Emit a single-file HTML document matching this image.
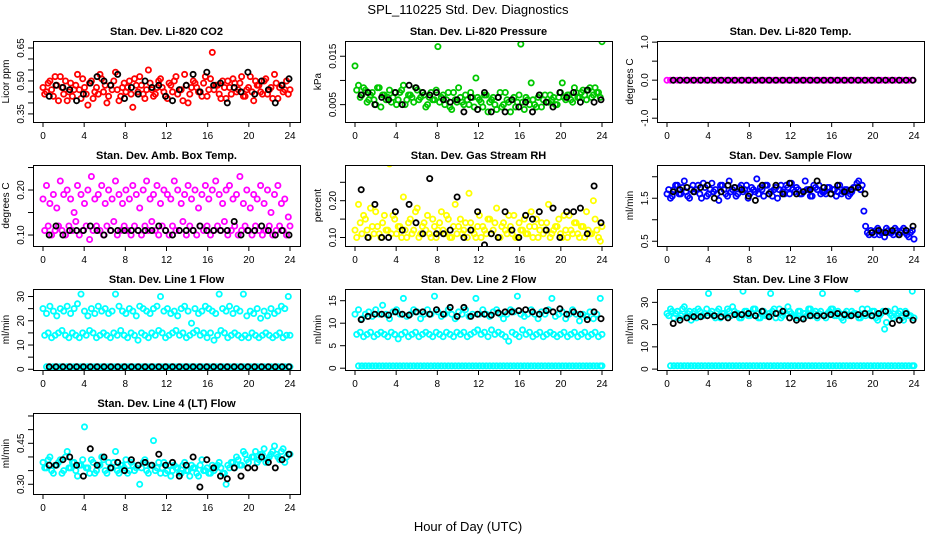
<!DOCTYPE html>
<html><head><meta charset="utf-8"><style>
html,body{margin:0;padding:0;background:#fff}
svg{display:block;font-family:"Liberation Sans",Arial,sans-serif}
</style></head><body>
<svg id="c" width="936" height="540" viewBox="0 0 936 540">
<text x="468" y="14" text-anchor="middle" font-size="13">SPL_110225  Std. Dev. Diagnostics</text>
<text x="468" y="531" text-anchor="middle" font-size="13">Hour of Day (UTC)</text>
</svg>
<script>
const hourTicks=[0,4,8,12,16,20,24];
const co2A=[0.47,0.45,0.50,0.43,0.48,0.52,0.44,0.41,0.49,0.46,0.53,0.42,0.47,0.39,0.50,0.45,0.44,0.51,0.48,0.43,0.46,0.54,0.41,0.47,0.45,0.50,0.38,0.48,0.52,0.44,0.46,0.49,0.43,0.47,0.51,0.45,0.42,0.48,0.50,0.44,0.46,0.53,0.40,0.47,0.49,0.45,0.43,0.52,0.46,0.63,0.48,0.44,0.50,0.42,0.47,0.51,0.45,0.49,0.43,0.46,0.52,0.41,0.48,0.45,0.50,0.44,0.47,0.53,0.42,0.48,0.46,0.44];
const co2B=[0.44,0.49,0.46,0.52,0.41,0.47,0.50,0.45,0.43,0.48,0.46,0.51,0.44,0.49,0.42,0.47,0.53,0.45,0.40,0.48,0.50,0.46,0.43,0.49,0.47,0.44,0.51,0.45,0.48,0.42,0.55,0.46,0.44,0.50,0.47,0.43,0.49,0.45,0.52,0.46,0.41,0.48,0.44,0.50,0.47,0.45,0.49,0.43,0.51,0.46,0.48,0.42,0.47,0.50,0.44,0.49,0.46,0.52,0.43,0.47,0.45,0.50,0.48,0.44,0.51,0.46,0.42,0.49,0.47,0.45,0.50,0.46];
const co2K=[0.43,0.48,0.47,0.46,0.41,0.44,0.49,0.52,0.50,0.48,0.53,0.42,0.47,0.44,0.50,0.47,0.48,0.43,0.41,0.46,0.48,0.53,0.45,0.54,0.48,0.49,0.40,0.47,0.45,0.54,0.44,0.50,0.46,0.40,0.48,0.51];
const presA=[0.013,0.009,0.007,0.008,0.006,0.0075,0.005,0.0085,0.007,0.006,0.008,0.0065,0.005,0.0075,0.009,0.006,0.007,0.0055,0.008,0.0065,0.007,0.005,0.0075,0.006,0.017,0.0065,0.005,0.0075,0.004,0.006,0.0085,0.0055,0.007,0.005,0.0065,0.0105,0.006,0.0045,0.007,0.0055,0.0065,0.004,0.0075,0.005,0.006,0.0035,0.0065,0.0055,0.0175,0.004,0.006,0.0095,0.005,0.0065,0.0045,0.007,0.0055,0.006,0.005,0.0065,0.0095,0.006,0.007,0.0055,0.0075,0.0065,0.008,0.006,0.0085,0.007,0.0075,0.0065];
const presB=[0.008,0.0065,0.0085,0.0055,0.007,0.006,0.0085,0.0045,0.007,0.0065,0.0055,0.0075,0.006,0.008,0.005,0.007,0.0065,0.0085,0.006,0.0075,0.0045,0.0065,0.006,0.008,0.0055,0.007,0.006,0.0045,0.0075,0.0055,0.0065,0.005,0.006,0.0075,0.0045,0.0065,0.0055,0.007,0.0035,0.006,0.005,0.0065,0.0045,0.0075,0.0055,0.006,0.0045,0.007,0.0055,0.0065,0.005,0.006,0.0045,0.007,0.006,0.0055,0.007,0.0065,0.005,0.0075,0.0065,0.007,0.006,0.0085,0.0065,0.0075,0.007,0.008,0.0065,0.0085,0.0075,0.018];
const presK=[0.007,0.0075,0.005,0.0065,0.006,0.0075,0.005,0.009,0.0085,0.0075,0.007,0.0075,0.006,0.0055,0.006,0.0035,0.0065,0.004,0.0075,0.0035,0.0065,0.0035,0.006,0.0045,0.0055,0.0035,0.007,0.0055,0.0045,0.0075,0.0065,0.0075,0.0055,0.008,0.0055,0.006];
const tempA=[0,0,0,0,0,0,0,0,0,0,0,0,0,0,0,0,0,0,0,0,0,0,0,0,0,0,0,0,0,0,0,0,0,0,0,0,0,0,0,0,0,0,0,0,0,0,0,0,0,0,0,0,0,0,0,0,0,0,0,0,0,0,0,0,0,0,0,0,0,0,0,0];
const tempK=[0,0,0,0,0,0,0,0,0,0,0,0,0,0,0,0,0,0,0,0,0,0,0,0,0,0,0,0,0,0,0,0,0,0,0,0];
const ambA=[0.18,0.21,0.17,0.19,0.16,0.22,0.19,0.20,0.18,0.15,0.21,0.19,0.17,0.20,0.23,0.18,0.19,0.21,0.17,0.20,0.18,0.22,0.19,0.17,0.20,0.18,0.21,0.19,0.16,0.20,0.22,0.18,0.19,0.21,0.17,0.20,0.19,0.18,0.22,0.20,0.17,0.19,0.21,0.18,0.20,0.16,0.19,0.21,0.18,0.20,0.22,0.19,0.17,0.20,0.21,0.18,0.19,0.23,0.17,0.20,0.16,0.19,0.18,0.21,0.17,0.20,0.15,0.19,0.21,0.17,0.18,0.14];
const ambB=[0.11,0.12,0.10,0.11,0.12,0.11,0.10,0.12,0.11,0.13,0.10,0.11,0.12,0.09,0.11,0.12,0.11,0.10,0.12,0.11,0.13,0.10,0.11,0.12,0.11,0.10,0.12,0.11,0.10,0.12,0.11,0.13,0.11,0.10,0.12,0.11,0.10,0.12,0.11,0.11,0.13,0.10,0.12,0.11,0.10,0.12,0.11,0.12,0.10,0.11,0.12,0.11,0.13,0.10,0.11,0.12,0.10,0.11,0.12,0.11,0.10,0.12,0.11,0.10,0.11,0.12,0.10,0.11,0.12,0.11,0.10,0.12];
const ambK=[0.10,0.12,0.10,0.11,0.11,0.11,0.12,0.11,0.10,0.11,0.11,0.11,0.11,0.11,0.11,0.11,0.12,0.11,0.10,0.11,0.11,0.11,0.12,0.11,0.11,0.11,0.11,0.13,0.10,0.11,0.11,0.12,0.11,0.10,0.11,0.10];
const rhA=[0.12,0.19,0.11,0.15,0.10,0.13,0.17,0.11,0.14,0.12,0.30,0.16,0.11,0.13,0.21,0.10,0.15,0.12,0.18,0.11,0.14,0.16,0.10,0.13,0.12,0.17,0.11,0.15,0.10,0.19,0.13,0.11,0.14,0.22,0.12,0.10,0.16,0.13,0.11,0.15,0.12,0.18,0.10,0.14,0.11,0.13,0.16,0.10,0.12,0.15,0.11,0.17,0.13,0.10,0.14,0.12,0.19,0.11,0.13,0.15,0.10,0.12,0.16,0.11,0.14,0.10,0.13,0.17,0.11,0.20,0.12,0.09];
const rhB=[0.10,0.14,0.16,0.12,0.18,0.11,0.13,0.10,0.16,0.12,0.11,0.15,0.13,0.10,0.12,0.14,0.11,0.17,0.10,0.13,0.12,0.11,0.15,0.10,0.14,0.12,0.16,0.10,0.13,0.11,0.15,0.12,0.10,0.14,0.11,0.13,0.10,0.12,0.15,0.11,0.14,0.10,0.13,0.12,0.16,0.11,0.10,0.14,0.12,0.11,0.13,0.10,0.15,0.12,0.11,0.14,0.10,0.12,0.13,0.11,0.16,0.10,0.12,0.14,0.11,0.13,0.10,0.12,0.11,0.15,0.10,0.13];
const rhK=[0.23,0.10,0.19,0.10,0.10,0.17,0.12,0.19,0.14,0.11,0.26,0.11,0.11,0.12,0.21,0.10,0.12,0.17,0.08,0.11,0.10,0.17,0.12,0.10,0.16,0.15,0.17,0.12,0.18,0.10,0.17,0.17,0.18,0.11,0.24,0.14];
const flowA=[1.6,1.5,1.7,1.8,1.6,1.9,1.55,1.7,1.65,1.8,1.5,1.75,1.6,1.85,1.7,1.45,1.8,1.6,1.9,1.7,1.55,1.75,1.65,1.8,1.6,1.7,1.95,1.75,1.55,1.8,1.65,1.7,1.5,1.8,1.6,1.75,1.85,1.65,1.7,1.6,1.9,1.7,1.55,1.75,1.8,1.65,1.6,1.75,1.7,1.55,1.8,1.65,1.7,1.6,1.75,1.85,1.7,1.2,0.7,0.75,0.65,0.8,0.7,0.6,0.75,0.7,0.8,0.65,0.75,0.7,0.6,0.75];
const flowB=[1.7,1.55,1.8,1.6,1.75,1.65,1.5,1.8,1.7,1.6,1.85,1.55,1.7,1.65,1.6,1.8,1.7,1.55,1.65,1.75,1.6,1.8,1.7,1.5,1.75,1.65,1.6,1.7,1.8,1.6,1.55,1.75,1.7,1.65,1.8,1.6,1.7,1.75,1.6,1.65,1.7,1.55,1.8,1.7,1.6,1.65,1.75,1.6,1.7,1.65,1.6,1.7,1.55,1.65,1.75,1.9,1.8,0.85,0.65,0.7,0.75,0.65,0.7,0.8,0.7,0.65,0.75,0.7,0.8,0.65,0.7,0.55];
const flowK=[1.65,1.7,1.75,1.65,1.75,1.8,1.5,1.65,1.8,1.75,1.7,1.55,1.45,1.8,1.6,1.8,1.6,1.85,1.6,1.65,1.7,1.9,1.75,1.6,1.8,1.65,1.7,1.75,1.6,0.7,0.75,0.7,0.75,0.65,0.75,0.85];
const l1A=[25,23,26,24,22,25,24,26,23,25,27,31,24,22,25,23,26,24,25,23,24,31,26,24,23,25,24,22,26,25,24,23,25,26,30,24,25,23,24,22,25,26,24,19,25,23,24,26,25,24,23,31,25,24,26,23,25,24,31,22,24,23,25,21,24,22,25,23,24,26,25,30];
const l1B=[14,15,13,14,15,16,14,13,15,14,13,15,14,16,15,13,14,15,14,13,15,14,16,14,13,15,14,12,15,14,13,15,14,16,15,13,14,15,16,14,15,13,14,15,16,14,15,13,15,12,14,16,15,13,14,15,14,13,14,13,15,14,13,14,15,14,13,14,15,13,14,14];
const l1C=[1,1,1,1,1,1,1,1,1,1,1,1,1,1,1,1,1,1,1,1,1,1,1,1,1,1,1,1,1,1,1,1,1,1,1,1,1,1,1,1,1,1,1,1,1,1,1,1,1,1,1,1,1,1,1,1,1,1,1,1,1,1,1,1,1,1,1,1,1,1,1,1];
const l1K=[1,1,1,1,1,1,1,1,1,1,1,1,1,1,1,1,1,1,1,1,1,1,1,1,1,1,1,1,1,1,1,1,1,1,1,1];
const l2A=[12,13,11,12,12.5,11.5,13,12,14,12,11,12.5,13,12,15.5,11.5,12,13,12.5,11,12,13,12,16,12.5,11.5,12,13,12,11,12.5,12,13,11.5,12,15.5,12,13,12,11.5,12.5,13,12,11,12,13,12.5,16,12,11.5,12,13,12,11,12.5,12,13,15.5,11.5,12,12.5,11,12,13,12,10.5,12,11.5,12.5,11,12,15.5];
const l2B=[7.5,8,7,7.5,8,7,7.5,8,7.5,7,8,7.5,6.5,7.5,8,7,7.5,8,7,7.5,8,7.5,7,8,7.5,7,8,7.5,7,8,7.5,8,7,7.5,8,8.5,7.5,8,7,8.5,7.5,8,7.5,7,6,8,7.5,7,8.5,7.5,8,7,7.5,8,7,7.5,8,7.5,7,7.5,8,7,7.5,8,7,7.5,8,7,7.5,8,7,7.5];
const l2C=[0.5,0.5,0.5,0.5,0.5,0.5,0.5,0.5,0.5,0.5,0.5,0.5,0.5,0.5,0.5,0.5,0.5,0.5,0.5,0.5,0.5,0.5,0.5,0.5,0.5,0.5,0.5,0.5,0.5,0.5,0.5,0.5,0.5,0.5,0.5,0.5,0.5,0.5,0.5,0.5,0.5,0.5,0.5,0.5,0.5,0.5,0.5,0.5,0.5,0.5,0.5,0.5,0.5,0.5,0.5,0.5,0.5,0.5,0.5,0.5,0.5,0.5,0.5,0.5,0.5,0.5,0.5,0.5,0.5,0.5,0.5,0.5];
const l2K=[10.8,11.5,12,12,11.8,12.5,12,11.8,12.5,12.5,12,13,12,13.5,11.5,13.5,11.5,12,12,11.8,12.3,12.5,12.5,12.8,13,12.5,12,12.8,12.5,13.2,12,12.5,12,10.8,12.5,11];
const l3A=[25,27,23,26,24,28,25,22,26,27,24,25,34,26,23,27,25,24,26,28,25,23,35,26,24,27,25,23,26,24,34,27,25,23,26,28,25,24,26,23,25,27,24,26,25,34,23,26,27,24,25,22,26,24,25,36,23,25,27,24,26,22,25,18,26,24,27,25,23,26,24,35];
const l3B=[24,26,25,23,27,24,26,25,23,26,24,27,25,24,26,23,25,27,24,26,25,23,26,24,25,27,23,26,24,25,26,23,27,24,25,26,24,23,26,25,24,27,25,23,26,24,25,27,24,26,23,25,24,26,25,23,27,24,25,26,23,24,26,21,25,23,24,26,22,25,24,23];
const l3C=[1.5,1.5,1.5,1.5,1.5,1.5,1.5,1.5,1.5,1.5,1.5,1.5,1.5,1.5,1.5,1.5,1.5,1.5,1.5,1.5,1.5,1.5,1.5,1.5,1.5,1.5,1.5,1.5,1.5,1.5,1.5,1.5,1.5,1.5,1.5,1.5,1.5,1.5,1.5,1.5,1.5,1.5,1.5,1.5,1.5,1.5,1.5,1.5,1.5,1.5,1.5,1.5,1.5,1.5,1.5,1.5,1.5,1.5,1.5,1.5,1.5,1.5,1.5,1.5,1.5,1.5,1.5,1.5,1.5,1.5,1.5,1.5];
const l3K=[20.5,22,23,23.5,23.5,24,24,23.5,23,24.5,24.5,25,24,26,23.5,25,26,23,22,22.5,24,24,24,24.5,25,24.5,24,24.5,25,24,25,26,20.5,22,25,22];
const l4A=[0.38,0.36,0.40,0.34,0.37,0.39,0.35,0.42,0.36,0.38,0.33,0.37,0.51,0.36,0.39,0.34,0.37,0.40,0.35,0.38,0.36,0.42,0.34,0.37,0.39,0.35,0.37,0.36,0.30,0.38,0.35,0.37,0.46,0.36,0.34,0.38,0.35,0.33,0.37,0.36,0.34,0.38,0.35,0.37,0.36,0.33,0.39,0.35,0.34,0.37,0.36,0.38,0.34,0.30,0.36,0.38,0.40,0.37,0.42,0.39,0.57,0.40,0.38,0.41,0.43,0.39,0.41,0.44,0.40,0.42,0.38,0.41];
const l4B=[0.36,0.39,0.35,0.37,0.38,0.34,0.40,0.36,0.38,0.35,0.37,0.39,0.36,0.34,0.38,0.35,0.37,0.39,0.34,0.36,0.38,0.35,0.37,0.36,0.34,0.38,0.35,0.37,0.36,0.39,0.34,0.37,0.35,0.38,0.36,0.34,0.37,0.35,0.36,0.34,0.37,0.35,0.33,0.36,0.34,0.37,0.35,0.36,0.34,0.35,0.37,0.36,0.34,0.37,0.38,0.36,0.39,0.37,0.41,0.38,0.40,0.42,0.39,0.41,0.38,0.40,0.42,0.41,0.39,0.43,0.40,0.41];
const l4K=[0.37,0.37,0.39,0.40,0.37,0.33,0.43,0.37,0.40,0.36,0.38,0.35,0.39,0.37,0.38,0.37,0.41,0.37,0.38,0.33,0.37,0.40,0.29,0.39,0.36,0.33,0.32,0.36,0.33,0.36,0.36,0.40,0.38,0.36,0.39,0.41];

const NS="http://www.w3.org/2000/svg",svg=document.getElementById('c');
const colL=[33,345,657],rowT=[41,165,289,413],W=267,H=81;
const panels=[
 [0,0,"Stan. Dev. Li-820 CO2","Licor ppm",0.3132,0.6818,[0.35,0.40,0.45,0.50,0.55,0.60,0.65],["0.35","","","0.50","","","0.65"],"#ff0000",[co2A,co2B],co2K],
 [1,0,"Stan. Dev. Li-820 Pressure","kPa",0.00141,0.01815,[0.005,0.010,0.015],["0.005","","0.015"],"#00c800",[presA,presB],presK],
 [2,0,"Stan. Dev. Li-820 Temp.","degrees C",-1.1,1.03,[-1,-0.5,0,0.5,1],["-1.0","","0.0","","1.0"],"#ff00ff",[tempA],tempK],
 [0,1,"Stan. Dev. Amb. Box Temp.","degrees C",0.0756,0.2556,[0.10,0.15,0.20,0.25],["0.10","","0.20",""],"#ff00ff",[ambA,ambB],ambK],
 [1,1,"Stan. Dev. Gas Stream RH","percent",0.0769,0.2970,[0.10,0.15,0.20,0.25],["0.10","","0.20",""],"#ffff00",[rhA,rhB],rhK],
 [2,1,"Stan. Dev. Sample Flow","ml/min",0.3895,2.273,[0.5,1.0,1.5,2.0],["0.5","","1.5",""],"#0000ff",[flowA,flowB],flowK],
 [0,2,"Stan. Dev. Line 1 Flow","ml/min",-0.3,33.1,[0,5,10,15,20,25,30],["0","","10","","20","","30"],"#00ffff",[l1A,l1B,l1C],l1K],
 [1,2,"Stan. Dev. Line 2 Flow","ml/min",-0.4,17.6,[0,5,10,15],["0","5","10","15"],"#00ffff",[l2A,l2B,l2C],l2K],
 [2,2,"Stan. Dev. Line 3 Flow","ml/min",-0.4,36.0,[0,10,20,30],["0","10","20","30"],"#00ffff",[l3A,l3B,l3C],l3K],
 [0,3,"Stan. Dev. Line 4 (LT) Flow","ml/min",0.2644,0.5609,[0.30,0.35,0.40,0.45,0.50,0.55],["0.30","","","0.45","",""],"#00ffff",[l4A,l4B],l4K]
];
function mk(tag,at,parent){const e=document.createElementNS(NS,tag);for(const k in at)e.setAttribute(k,at[k]);(parent||svg).appendChild(e);return e;}
panels.forEach((p,pi)=>{
 const [c,r,title,ylab,v0,v1,ticks,labels,color,series,blk]=p;
 const L=colL[c],T=rowT[r];
 const g=mk('g',{});
 
 
 const xs=h=>L+10+h/24*(W-20);
 const ys=v=>T+H-(v-v0)/(v1-v0)*H;
 const tt=mk('text',{x:L+W/2,y:T-6,'text-anchor':'middle','font-size':'11','font-weight':'bold'},g);tt.textContent=title;
 
 
 const yl=mk('text',{x:0,y:0,transform:`translate(${L-24},${T+H/2}) rotate(-90)`,'text-anchor':'middle','font-size':'10'},g);yl.textContent=ylab;
 
 
 const clip=mk('clipPath',{id:'cp'+pi},g);mk('rect',{x:L,y:T,width:W,height:H},clip);
 const pts=mk('g',{'clip-path':`url(#cp${pi})`,fill:'none','stroke-width':'1.8'},g);
 series.forEach((s,si)=>{
  const gs=mk('g',{stroke:color},pts);
  
  
  s.forEach((v,i)=>{const t=(i+si*0.5)*24/(s.length-0.5);
   const ci=mk('circle',{cx:xs(Math.min(24,t)).toFixed(1),cy:ys(v).toFixed(1),r:2.6},gs);
   
   });
 });
 const gk=mk('g',{stroke:'#000'},pts);
 
 
 blk.forEach((v,i)=>{const t=0.6+i*23.3/(blk.length-1);
  const ci=mk('circle',{cx:xs(t).toFixed(1),cy:ys(v).toFixed(1),r:2.6},gk);
  
  });
 const box=mk('rect',{x:L+0.5,y:T+0.5,width:W,height:H,fill:'none',stroke:'#000','stroke-width':'1'},g);
 
 
 hourTicks.forEach(h=>{const x=xs(h);mk('line',{x1:x,x2:x,y1:T+H,y2:T+H+5,stroke:'#000'},g);
  const tl=mk('text',{x:x,y:T+H+17,'text-anchor':'middle','font-size':'10'},g);tl.textContent=h;
  
  });
 ticks.forEach((v,i)=>{const y=ys(v);mk('line',{x1:L,x2:L-5,y1:y,y2:y,stroke:'#000'},g);
  if(labels[i]){const tl=mk('text',{x:0,y:0,transform:`translate(${L-9},${y}) rotate(-90)`,'text-anchor':'middle','font-size':'10'},g);tl.textContent=labels[i];
  
  }});
});
</script>
</body></html>
